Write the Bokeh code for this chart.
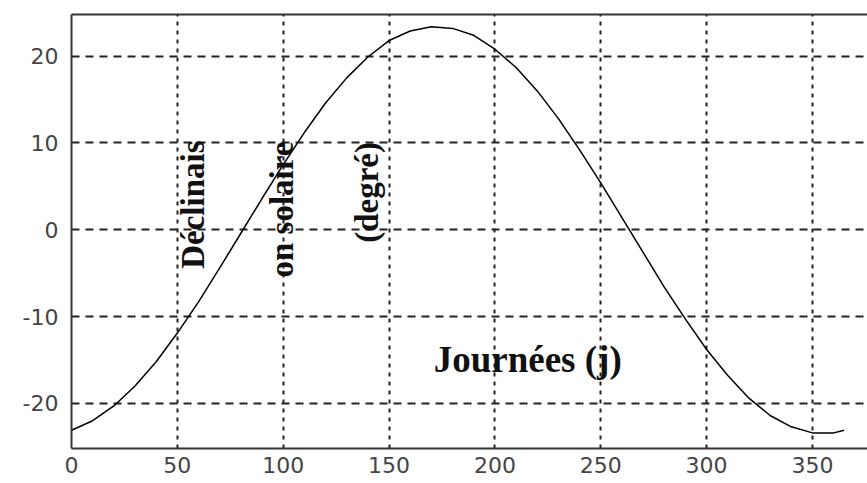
from bokeh.plotting import figure
from bokeh.models import FixedTicker, LinearAxis, Range1d
from bokeh.core.properties import value
from bokeh.embed import file_html
from bokeh.resources import INLINE
import math

# Day of year and solar declination (degrees)
days = [0, 10, 20, 30, 40, 50, 60, 70, 80, 90, 100, 110, 120, 130, 140, 150,
        160, 170, 180, 190, 200, 210, 220, 230, 240, 250, 260, 270, 280, 290,
        300, 310, 320, 330, 340, 350, 360, 365]
declination = [-23.1, -22.0, -20.3, -18.0, -15.2, -11.9, -8.3, -4.4, -0.4, 3.6,
               7.5, 11.2, 14.6, 17.5, 19.9, 21.8, 22.9, 23.4, 23.2, 22.4,
               20.8, 18.7, 16.0, 12.8, 9.2, 5.4, 1.4, -2.6, -6.6, -10.3,
               -13.8, -16.8, -19.4, -21.4, -22.7, -23.4, -23.4, -23.1]

x_ticks = [0, 50, 100, 150, 200, 250, 300, 350]
y_ticks = [-20, -10, 0, 10, 20]
y_tick_labels = ["-20", "-10", "0", "10", "20"]

# Annotation texts
vertical_labels = ["Déclinais", "on solaire", "(degré)"]
vertical_x = [57.6, 99.2, 139.4]
vertical_y = [-4.5, -5.5, -1.5]
horizontal_label = ["Journées (j)"]
horizontal_x = [215.5]
horizontal_y = [-15.0]

p = figure(width=867, height=483, output_backend="svg", toolbar_location=None,
           x_range=Range1d(0, 376), y_range=Range1d(-25.2, 24.8),
           min_border_left=71, min_border_right=0, min_border_top=14,
           min_border_bottom=35)
p.outline_line_color = None
p.background_fill_color = "white"
p.border_fill_color = "white"

for ax in (p.xaxis[0], p.yaxis[0]):
    ax.major_tick_in = 0
    ax.major_tick_out = 0
    ax.minor_tick_in = 0
    ax.minor_tick_out = 0
    ax.axis_line_color = "#333333"
    ax.axis_line_width = 2
    ax.major_label_text_font = "DejaVu Sans"
    ax.major_label_text_font_size = "22px"
    ax.major_label_text_color = "#444444"

p.xaxis[0].ticker = FixedTicker(ticks=x_ticks)
p.yaxis[0].ticker = FixedTicker(ticks=y_ticks)
p.yaxis[0].major_label_overrides = dict(zip(y_ticks, y_tick_labels))
p.xaxis[0].major_label_standoff = 8
p.yaxis[0].major_label_standoff = 13

top = LinearAxis(major_tick_in=0, major_tick_out=0, minor_tick_in=0, minor_tick_out=0,
                 major_label_text_font_size="0px", axis_line_color="#333333",
                 axis_line_width=2, major_label_standoff=0,
                 ticker=FixedTicker(ticks=[]))
p.add_layout(top, "above")

p.xgrid.grid_line_color = "#222222"
p.xgrid.grid_line_width = 2
p.xgrid.grid_line_dash = "4 5"
p.ygrid.grid_line_color = "#222222"
p.ygrid.grid_line_width = 2
p.ygrid.grid_line_dash = "8 6"

p.line(days, declination, line_color="black", line_width=1.5)

p.text(x=vertical_x, y=vertical_y, text=vertical_labels, angle=math.pi / 2,
       text_font=value("Liberation Serif"), text_font_style="bold",
       text_font_size="33px", text_align="left", text_baseline="middle",
       text_color="#111111")
p.text(x=horizontal_x, y=horizontal_y, text=horizontal_label,
       text_font=value("Liberation Serif"), text_font_style="bold",
       text_font_size="37px", text_align="center", text_baseline="middle",
       text_color="#111111")

open("out.html", "w").write(file_html(p, INLINE))
